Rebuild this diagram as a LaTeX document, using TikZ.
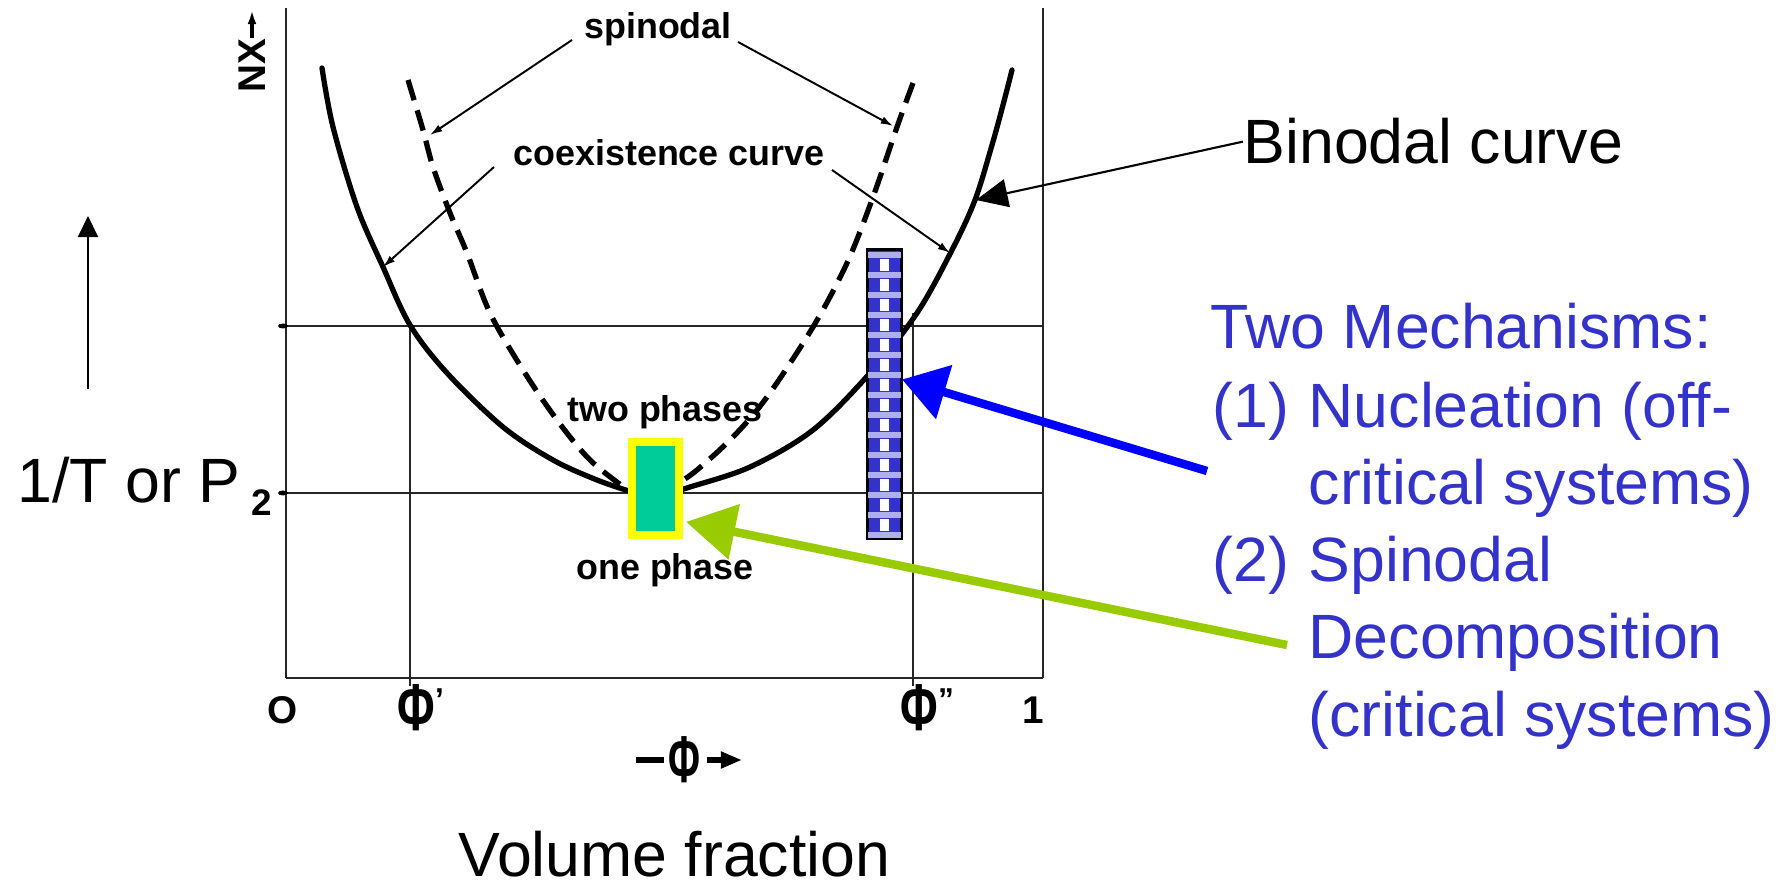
\documentclass[tikz,border=0pt]{standalone}
\usepackage{fontspec}
\setmainfont{Liberation Sans}
\usetikzlibrary{arrows.meta,calc}
\definecolor{txtblue}{RGB}{51,51,204}
\definecolor{arrblue}{RGB}{0,0,255}
\definecolor{arrgreen}{RGB}{153,204,0}
\definecolor{critgreen}{RGB}{0,204,153}
\definecolor{ylw}{RGB}{255,255,0}
\definecolor{nuclight}{RGB}{175,175,238}
\newcommand{\tallphi}{\scalebox{1}[1.45]{\fontsize{13}{13}\selectfont Φ}}
\begin{document}
\begin{tikzpicture}[x=0.01cm,y=-0.01cm,
  frame/.style={line width=0.6pt, black!85},
  binodal/.style={line width=1.5pt, line cap=round},
  spinod/.style={line width=1.5pt, dash pattern=on 6pt off 3pt},
  lblarrow/.style={line width=0.55pt, -{Latex[length=3.5pt,width=2.2pt]}},
  big/.style={font=\fontsize{17.8}{21.9}\selectfont, inner sep=0pt},
  scan/.style={font=\fontsize{10.2}{12}\selectfont\bfseries, inner sep=0pt},
  ticklbl/.style={font=\fontsize{11}{12}\selectfont\bfseries, inner sep=0pt},
  mech/.style={big, text=txtblue, anchor=base west},
  fatarrow/.style={line width=2.4pt, -{Triangle[length=12.5pt,width=15.5pt]}},
]
\useasboundingbox (0,0) rectangle (1792,886);

% frame and grid
\draw[frame] (286,8) -- (286,678);
\draw[frame] (1043,8) -- (1043,678);
\draw[frame, line width=0.8pt] (286,678) -- (1043,678);
\draw[frame, line width=0.8pt] (281,326) -- (1043,326);
\draw[frame, line width=0.8pt] (281,493) -- (1043,493);
\draw[frame] (410,326) -- (410,686);
\draw[frame] (913,313) -- (913,686);
\fill (283,326) ellipse (5 and 2.5);
\fill (283,493) ellipse (5 and 2.5);

% binodal curve
\draw[binodal] plot[smooth, tension=0.55] coordinates {(322,68) (333,127) (357,207) (383,267) (410,325) (447,373) (503,427) (553,460) (597,480) (632,492)};
\draw[binodal] plot[smooth, tension=0.55] coordinates {(680,490) (690,487) (750,467) (813,430) (870,373) (917,313) (952,250) (975,200) (992,145) (1003,105) (1012,70)};
% spinodal curve
\draw[spinod] plot[smooth, tension=0.55] coordinates {(408,80) (423,130) (433,167) (450,213) (467,253) (490,313) (523,370) (557,420) (590,460) (625,488)};
\draw[spinod] plot[smooth, tension=0.55] coordinates {(913,83) (897,127) (873,197) (847,263) (813,327) (767,397) (733,437) (697,470) (680,482)};

% scanned labels
\node[scan, anchor=base] (spin) at (658,39) {spinodal};
\node[scan, anchor=base] (coex) at (669,166) {coexistence curve};
\node[scan, anchor=base] (two) at (665,422) {two phases};
\node[scan, anchor=base] (one) at (665,580) {one phase};

\coordinate (spLs) at (572,40);  \coordinate (spLe) at (430,135);
\coordinate (spRs) at (738,42);  \coordinate (spRe) at (893,126);
\coordinate (cxLs) at (494,167); \coordinate (cxLe) at (383,267);
\coordinate (cxRs) at (832,170); \coordinate (cxRe) at (950,253);
\draw[lblarrow] (spLs) -- (spLe);
\draw[lblarrow] (spRs) -- (spRe);
\draw[lblarrow] (cxLs) -- (cxLe);
\draw[lblarrow] (cxRs) -- (cxRe);

% axis tick labels
\node[ticklbl] (o) at (283,710) {O};
\node[ticklbl, anchor=west] (phi1) at (397,708) {\tallphi\raisebox{2mm}{\fontsize{9}{9}\selectfont '}};
\node[ticklbl, anchor=west] (phi2) at (900,708) {\tallphi\raisebox{2mm}{\fontsize{9}{9}\selectfont "}};
\node[ticklbl] (one1) at (1033,710) {1};
\node[ticklbl] (phi) at (684,760) {\scalebox{0.85}[1]{\tallphi}};
\draw[line width=1.8pt] (636,760) -- (664,760);
\draw[line width=1.8pt, -{Triangle[length=6pt,width=4.5pt]}] (phi.east) ++(6,0) -- (742,760);
\node[ticklbl, font=\fontsize{10.5}{12}\selectfont\bfseries] (lbl2) at (262,503) {2};
\node[scan, font=\fontsize{11}{12}\selectfont\bfseries, rotate=90] (nx) at (252,66) {NX};
\draw[line width=0.9pt, -{Latex[length=4pt,width=2.5pt]}] (nx.east) -- (252,10);

% nucleation bar
\node[draw=black, line width=0.6pt, fill=txtblue, minimum width=0.33cm, minimum height=2.88cm, inner sep=0pt] (nuc) at (884.5,394) {};
\begin{scope}
\clip (nuc.north west) rectangle (nuc.south east);
\foreach \k in {0,...,14} {
  \fill[nuclight] (868,252+20*\k) rectangle (901,258+20*\k);
  \fill[white] (880,259+20*\k) rectangle (889,271+20*\k);
}
\end{scope}
\draw[line width=0.6pt] (nuc.north west) rectangle (nuc.south east);

% critical box
\node[draw=ylw, line width=2.3pt, fill=critgreen, minimum width=0.47cm, minimum height=0.93cm, inner sep=0pt] (crit) at (655.5,488.5) {};

% big texts
\node[big, anchor=base west] (ylab) at (17,503) {1/T or P};
\coordinate (yarr) at (88,389);
\draw[line width=0.6pt, -{Triangle[length=6pt,width=5.7pt]}] (yarr) -- (88,216);
\node[big, anchor=base west] (bin) at (1243,164) {Binodal curve};
\coordinate (binpt) at (976,200);
\draw[line width=0.6pt, -{Triangle[length=9pt,width=8pt]}] (bin.west) -- (binpt);
\node[big, anchor=base west] (vf) at (458,876) {Volume fraction};

\node[mech] (m0) at (1210,349) {Two Mechanisms:};
\node[mech] (m1a) at (1212,428) {(1)};
\node[mech] (m1b) at (1308,428) {Nucleation (off-};
\node[mech] (m1c) at (1308,505) {critical systems)};
\node[mech] (m2a) at (1212,582) {(2)};
\node[mech] (m2b) at (1308,582) {Spinodal};
\node[mech] (m2c) at (1308,659) {Decomposition};
\node[mech] (m2d) at (1308,736) {(critical systems)};

% mechanism arrows
\coordinate (bluestart) at (1207,471);
\draw[fatarrow, arrblue] (bluestart) -- ($(nuc.north east)!0.45!(nuc.south east)$);
\coordinate (greenstart) at (1287,645);
\draw[fatarrow, arrgreen, -{Triangle[length=14pt,width=15.5pt]}] (greenstart) -- ($(crit.north east)!0.83!(crit.south east)+(3,0)$);
\end{tikzpicture}
\end{document}
